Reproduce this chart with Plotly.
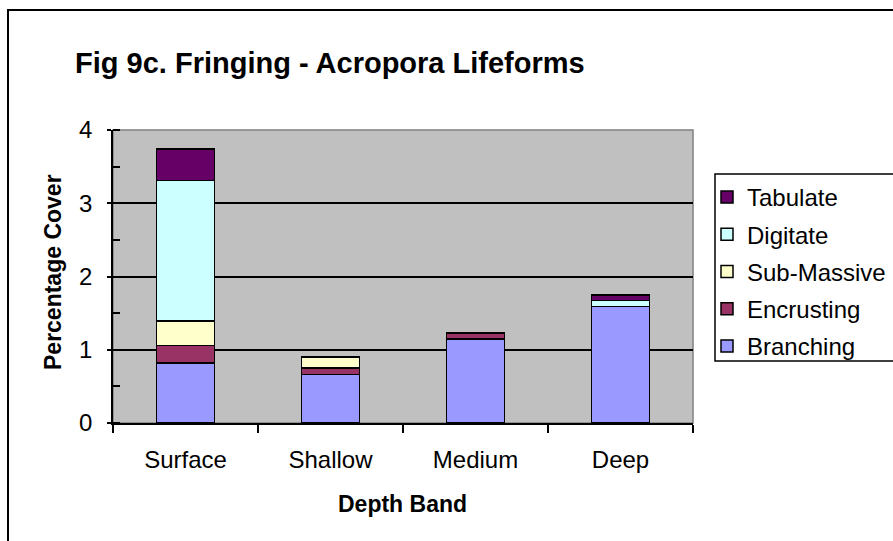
import plotly.graph_objects as go

# Acropora lifeform cover by depth band (fringing reef)
depth_bands = ["Surface", "Shallow", "Medium", "Deep"]
branching = [0.82, 0.66, 1.15, 1.59]
encrusting = [0.24, 0.09, 0.08, None]
sub_massive = [0.33, 0.15, None, None]
digitate = [1.92, None, None, 0.08]
tabulate = [0.43, None, None, 0.08]

series = [
    ("Branching", branching, "#9999FF"),
    ("Encrusting", encrusting, "#993366"),
    ("Sub-Massive", sub_massive, "#FFFFCC"),
    ("Digitate", digitate, "#CCFFFF"),
    ("Tabulate", tabulate, "#660066"),
]

FONT = "Arial, Liberation Sans, sans-serif"
W, H = 893, 541
L, R, T, B = 113, 200, 130, 118
PW, PH = W - L - R, H - T - B


def px_x(px):
    return (px - L) / PW


def px_y(py):
    return (H - B - py) / PH


fig = go.Figure()
n = len(series)
for i, (name, vals, color) in enumerate(series):
    fig.add_trace(go.Bar(
        x=depth_bands, y=vals, name=name, width=0.4,
        marker=dict(color=color, line=dict(color="black", width=1.5)),
        legendgroup=name, legendrank=n - i,
    ))

shapes = [
    # plot-area frame
    dict(type="rect", xref="paper", yref="paper", x0=0, x1=1, y0=0, y1=1,
         line=dict(color="#808080", width=1.5), layer="below"),
    # legend frame
    dict(type="rect", xref="paper", yref="paper",
         x0=px_x(715), x1=px_x(905), y0=px_y(361), y1=px_y(174),
         line=dict(color="black", width=1.5), fillcolor="rgba(0,0,0,0)"),
    # chart-area frame
    dict(type="rect", xref="paper", yref="paper",
         x0=px_x(8), x1=px_x(905), y0=px_y(560), y1=px_y(10),
         line=dict(color="black", width=2), fillcolor="rgba(0,0,0,0)"),
]

annotations = [
    dict(text="<b>Percentage Cover</b>", xref="paper", yref="paper",
         x=px_x(53), y=px_y(272), textangle=-90, showarrow=False,
         font=dict(family=FONT, size=23, color="black"),
         xanchor="center", yanchor="middle"),
    dict(text="<b>Depth Band</b>", xref="paper", yref="paper",
         x=px_x(402), y=px_y(504), showarrow=False,
         font=dict(family=FONT, size=23, color="black"),
         xanchor="center", yanchor="middle"),
]

fig.update_layout(
    width=W, height=H,
    margin=dict(l=L, r=R, t=T, b=B, pad=0),
    barmode="stack",
    paper_bgcolor="white",
    plot_bgcolor="#C0C0C0",
    font=dict(family=FONT, size=24, color="black"),
    title=dict(text="<b>Fig 9c. Fringing - Acropora Lifeforms</b>",
               xref="container", yref="container",
               x=75 / W, y=(H - 63) / H, xanchor="left", yanchor="middle",
               font=dict(family=FONT, size=29, color="black")),
    showlegend=True,
    legend=dict(xref="container", yref="container",
                x=707 / W, y=(H - 175) / H, xanchor="left", yanchor="top",
                traceorder="grouped", tracegroupgap=3,
                bgcolor="rgba(0,0,0,0)", borderwidth=0,
                font=dict(family=FONT, size=24, color="black")),
    shapes=shapes,
    annotations=annotations,
)

fig.update_xaxes(
    type="category", range=[-0.5, 3.5], tickson="boundaries",
    ticks="outside", ticklen=8, tickwidth=1.5, tickcolor="black",
    showline=True, linecolor="black", linewidth=1.5,
    showgrid=False, ticklabelstandoff=14,
    tickfont=dict(family=FONT, size=24, color="black"),
    fixedrange=True,
)
fig.update_yaxes(
    range=[0, 4], dtick=1, tick0=0,
    ticks="outside", ticklen=4, tickwidth=1.5, tickcolor="black",
    minor=dict(dtick=0.5, ticks="inside", ticklen=7, tickwidth=1.5,
               tickcolor="black", showgrid=False),
    showline=True, linecolor="black", linewidth=1.5,
    showgrid=True, gridcolor="black", gridwidth=1.5,
    zeroline=False, ticklabelstandoff=10,
    tickfont=dict(family=FONT, size=24, color="black"),
    fixedrange=True,
)

fig.write_html("out.html")
